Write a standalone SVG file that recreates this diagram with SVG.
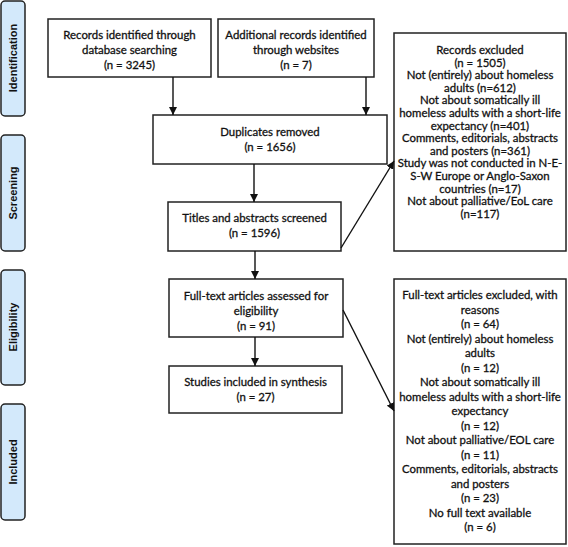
<svg xmlns="http://www.w3.org/2000/svg" width="568" height="547" viewBox="0 0 568 547">
<style>
.box{fill:#fff;stroke:#222;stroke-width:1.5}
.side{fill:#d3e9fb;stroke:#222;stroke-width:1.5}
.t{font-family:Lato,"Liberation Sans",sans-serif;font-size:11.4px;fill:#111;stroke:#111;stroke-width:0.3;text-anchor:middle}
.s{font-family:"Liberation Sans",Arial,sans-serif;font-size:11px;font-weight:bold;fill:#111;text-anchor:middle}
.c{stroke:#111;stroke-width:1.4;fill:none}
</style>
<defs>
<marker id="ah" viewBox="0 0 10 10" refX="10" refY="5" markerWidth="8" markerHeight="8" markerUnits="userSpaceOnUse" orient="auto">
<path d="M0,0 L10,5 L0,10 z" fill="#111"/>
</marker>
</defs>
<g id="label-identification">
<rect class="side" x="1" y="1" width="24" height="115" rx="4"/>
<text class="s" transform="translate(17,58) rotate(-90)">Identification</text>
</g>
<g id="label-screening">
<rect class="side" x="1" y="135" width="24" height="116" rx="4"/>
<text class="s" transform="translate(17,193) rotate(-90)">Screening</text>
</g>
<g id="label-eligibility">
<rect class="side" x="1" y="270" width="24" height="115" rx="4"/>
<text class="s" transform="translate(17,327) rotate(-90)">Eligibility</text>
</g>
<g id="label-included">
<rect class="side" x="1" y="404" width="24" height="116" rx="4"/>
<text class="s" transform="translate(17,462) rotate(-90)">Included</text>
</g>
<g id="node-database">
<rect class="box" x="48" y="19" width="163" height="58"/>
<text class="t" x="129.5" y="39">Records identified through</text>
<text class="t" x="129.5" y="54">database searching</text>
<text class="t" x="129.5" y="69">(n = 3245)</text>
</g>
<g id="node-websites">
<rect class="box" x="218" y="19" width="156" height="58"/>
<text class="t" x="296" y="39">Additional records identified</text>
<text class="t" x="296" y="54">through websites</text>
<text class="t" x="296" y="69">(n = 7)</text>
</g>
<g id="node-duplicates">
<rect class="box" x="153" y="115" width="234" height="49"/>
<text class="t" x="270" y="136">Duplicates removed</text>
<text class="t" x="270" y="151">(n = 1656)</text>
</g>
<g id="node-titles">
<rect class="box" x="168" y="202" width="173" height="49"/>
<text class="t" x="254.5" y="222">Titles and abstracts screened</text>
<text class="t" x="254.5" y="237">(n = 1596)</text>
</g>
<g id="node-fulltext">
<rect class="box" x="169" y="279" width="174" height="58"/>
<text class="t" x="256" y="300">Full-text articles assessed for</text>
<text class="t" x="256" y="315">eligibility</text>
<text class="t" x="256" y="330">(n = 91)</text>
</g>
<g id="node-studies">
<rect class="box" x="169" y="366" width="173" height="47"/>
<text class="t" x="255.5" y="386">Studies included in synthesis</text>
<text class="t" x="255.5" y="401">(n = 27)</text>
</g>
<g id="node-records-excluded">
<rect class="box" x="394" y="33" width="172" height="218"/>
<text class="t" x="480" y="54">Records excluded</text>
<text class="t" x="480" y="66.6">(n = 1505)</text>
<text class="t" x="480" y="79.2">Not (entirely) about homeless</text>
<text class="t" x="480" y="91.8">adults (n=612)</text>
<text class="t" x="480" y="104.4">Not about somatically ill</text>
<text class="t" x="480" y="117">homeless adults with a short-life</text>
<text class="t" x="480" y="129.6">expectancy (n=401)</text>
<text class="t" x="480" y="142.2">Comments, editorials, abstracts</text>
<text class="t" x="480" y="154.8">and posters (n=361)</text>
<text class="t" x="480" y="167.4">Study was not conducted in N-E-</text>
<text class="t" x="480" y="180">S-W Europe or Anglo-Saxon</text>
<text class="t" x="480" y="192.6">countries (n=17)</text>
<text class="t" x="480" y="205.2">Not about palliative/EoL care</text>
<text class="t" x="480" y="217.8">(n=117)</text>
</g>
<g id="node-fulltext-excluded">
<rect class="box" x="394" y="279" width="172" height="265"/>
<text class="t" x="480" y="299">Full-text articles excluded, with</text>
<text class="t" x="480" y="313.5">reasons</text>
<text class="t" x="480" y="328">(n = 64)</text>
<text class="t" x="480" y="342.5">Not (entirely) about homeless</text>
<text class="t" x="480" y="357">adults</text>
<text class="t" x="480" y="371.5">(n = 12)</text>
<text class="t" x="480" y="386">Not about somatically ill</text>
<text class="t" x="480" y="400.5">homeless adults with a short-life</text>
<text class="t" x="480" y="415">expectancy</text>
<text class="t" x="480" y="429.5">(n = 12)</text>
<text class="t" x="480" y="444">Not about palliative/EOL care</text>
<text class="t" x="480" y="458.5">(n = 11)</text>
<text class="t" x="480" y="473">Comments, editorials, abstracts</text>
<text class="t" x="480" y="487.5">and posters</text>
<text class="t" x="480" y="502">(n = 23)</text>
<text class="t" x="480" y="516.5">No full text available</text>
<text class="t" x="480" y="531">(n = 6)</text>
</g>
<g id="connectors">
<line class="c" x1="173" y1="77" x2="173" y2="115" marker-end="url(#ah)"/>
<line class="c" x1="366" y1="77" x2="366" y2="115" marker-end="url(#ah)"/>
<line class="c" x1="254" y1="164" x2="254" y2="202" marker-end="url(#ah)"/>
<line class="c" x1="255" y1="251" x2="255" y2="279" marker-end="url(#ah)"/>
<line class="c" x1="255" y1="337" x2="255" y2="366" marker-end="url(#ah)"/>
<line class="c" x1="341" y1="248" x2="394" y2="161" marker-end="url(#ah)"/>
<line class="c" x1="343" y1="310" x2="394" y2="411" marker-end="url(#ah)"/>
</g>
</svg>
